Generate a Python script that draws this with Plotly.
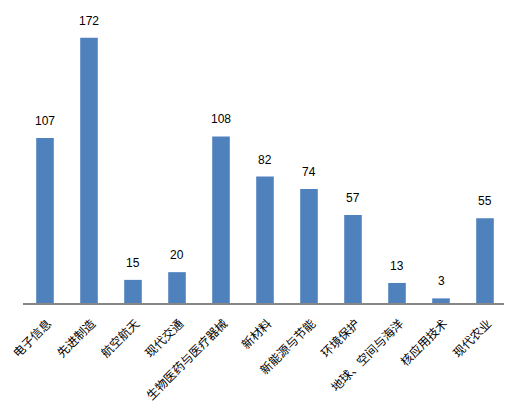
import plotly.graph_objects as go

categories = [
    "电子信息", "先进制造", "航空航天", "现代交通", "生物医药与医疗器械",
    "新材料", "新能源与节能", "环境保护", "地球、空间与海洋", "核应用技术", "现代农业",
]
counts = [107, 172, 15, 20, 108, 82, 74, 57, 13, 3, 55]

fig = go.Figure()

fig.add_trace(
    go.Bar(
        x=categories,
        y=counts,
        marker=dict(color="#4f81bd", line_width=0),
        showlegend=False,
    )
)

# value labels above each bar
for cat, val in zip(categories, counts):
    fig.add_annotation(
        x=cat, y=val,
        text=str(val),
        showarrow=False,
        yshift=17,
        font=dict(size=12, color="#000000", family="Liberation Sans, Arial, sans-serif"),
    )

# margins account for the 8px body margin of the html page
fig.update_layout(
    width=512,
    height=417,
    bargap=0.6,
    plot_bgcolor="white",
    paper_bgcolor="white",
    margin=dict(t=2, r=13, b=122, l=15),
)

fig.update_xaxes(
    tickangle=-45,
    tickfont=dict(size=12, color="#000000", family="Noto Sans CJK SC"),
    ticklabelstandoff=7,
    ticklabelshift=3,
    showline=True,
    linecolor="#868686",
    linewidth=1.5,
    showgrid=False,
    ticks="",
    automargin=False,
)

fig.update_yaxes(
    range=[0, 190],
    showticklabels=False,
    showgrid=False,
    zeroline=False,
    automargin=False,
)

fig.write_html("out.html")
